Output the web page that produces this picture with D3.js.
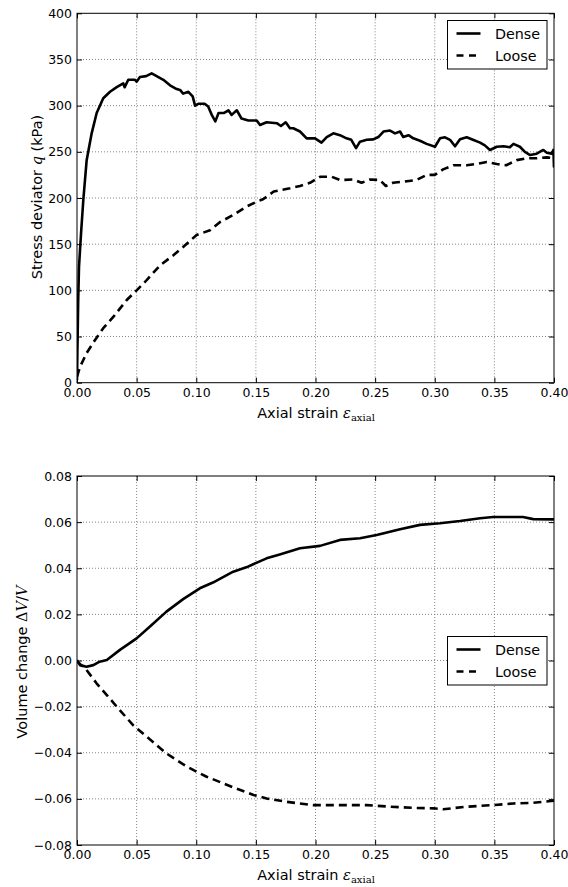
<!DOCTYPE html>
<html><head><meta charset="utf-8">
<script src="https://cdn.jsdelivr.net/npm/d3@7"></script>
<style>body{margin:0;background:#fff}svg{display:block}</style>
</head><body>
<svg id="c" width="568" height="887"></svg>
<script>
// ---- data ----
const xTicks = [0,0.05,0.10,0.15,0.20,0.25,0.30,0.35,0.40];
const qTicks = [0,50,100,150,200,250,300,350,400];
const vTicks = [-0.08,-0.06,-0.04,-0.02,0,0.02,0.04,0.06,0.08];
const seriesNames = ["Dense","Loose"];

const denseQStrain = [0,0.0003,0.001,0.0017,0.0034,0.0053,0.0081,0.0123,0.0165,0.022,0.0277,0.0333,0.0388,0.040,0.043,0.0486,0.050,0.0528,0.058,0.0626,0.0668,0.0724,0.078,0.0836,0.0864,0.089,0.0934,0.097,0.099,0.1017,0.107,0.110,0.113,0.116,0.1187,0.123,0.127,0.1297,0.134,0.138,0.1437,0.1507,0.1535,0.159,0.1675,0.171,0.175,0.1786,0.1814,0.187,0.1926,0.1996,0.205,0.2094,0.215,0.2205,0.226,0.230,0.234,0.2373,0.243,0.2485,0.2527,0.257,0.2625,0.2667,0.2709,0.2736,0.278,0.282,0.2876,0.2932,0.3002,0.3044,0.3086,0.3128,0.317,0.3212,0.3268,0.332,0.338,0.342,0.3463,0.352,0.3577,0.363,0.366,0.3714,0.3756,0.380,0.3855,0.391,0.394,0.398,0.3995,0.4];
const denseQ = [3,30,89,126,162,198,241,270,292,308,315,320,324,320,328,328,326,331,332,335,332,328,322,318,317,313,315,310,300,302,302,299,290,283,292,292,295,290,295,286,284,284,279,282,281,278,282,275.5,275.5,272,264.6,264.6,260,266,270,268,264.6,263,254,261,263,263.5,266,272,273,270,272,266,268,264.6,262,258.6,255.5,264.6,265.7,263,256,263.5,265.7,263,260,257,252,255.5,256,255,258.6,255.5,250,246.5,248,252,249,248,252,233];

const looseQStrain = [0,0.0025,0.008,0.015,0.022,0.0306,0.0417,0.050,0.0584,0.0696,0.0808,0.089,0.1003,0.1115,0.12,0.131,0.142,0.1507,0.156,0.165,0.1786,0.187,0.1954,0.2038,0.2136,0.2205,0.2317,0.2386,0.2457,0.254,0.259,0.265,0.2736,0.2847,0.2932,0.300,0.307,0.3156,0.3268,0.3352,0.3436,0.352,0.360,0.3688,0.377,0.3855,0.394,0.4];
const looseQ = [6.5,17,32,46,59,71.5,89.5,100,111,127,138,147,160,165,174,181.6,190.6,196,198.6,207,210.5,213,216.5,223,223,219.5,220,216.5,220,219.5,213,216.5,217.6,219.5,225,225,231,235.5,235.5,237,239,236.8,235.5,241,243,243,244,243];

const denseVStrain = [0,0.0025,0.008,0.0137,0.019,0.025,0.036,0.050,0.0612,0.075,0.089,0.103,0.114,0.131,0.142,0.159,0.170,0.187,0.2038,0.2205,0.2373,0.2513,0.2709,0.2876,0.3044,0.3212,0.338,0.349,0.366,0.374,0.3826,0.4];
const denseV = [0.0002,-0.002,-0.0027,-0.002,-0.0005,0.0002,0.0046,0.0096,0.0147,0.0212,0.0266,0.0313,0.0338,0.0385,0.0404,0.0443,0.0460,0.0487,0.0497,0.0523,0.0530,0.0544,0.0569,0.0588,0.0595,0.0605,0.0617,0.0622,0.0622,0.0622,0.0613,0.0612];

const looseVStrain = [0,0.008,0.0164,0.025,0.0333,0.047,0.0584,0.075,0.092,0.1087,0.131,0.148,0.159,0.176,0.187,0.198,0.2205,0.243,0.2625,0.282,0.299,0.307,0.3268,0.349,0.366,0.3826,0.4];
const looseV = [-0.0003,-0.0041,-0.0099,-0.015,-0.020,-0.028,-0.033,-0.0403,-0.046,-0.0504,-0.055,-0.0583,-0.0598,-0.0613,-0.062,-0.0627,-0.0627,-0.0627,-0.0634,-0.0639,-0.0641,-0.0645,-0.0634,-0.0627,-0.062,-0.0617,-0.0608];

// ---- drawing ----
const svg = d3.select("#c");
const L = 77, R = 554;
const x = d3.scaleLinear().domain([0,0.4]).range([L,R]);
const fmtX = d3.format(".2f");
const FONT = "DejaVu Sans, sans-serif";
const SERIF = "DejaVu Serif, serif";
const TICK_FS = 12.5, LABEL_FS = 14.5, LEG_FS = 14.3;

function panel(cfg){
  const y = d3.scaleLinear().domain(cfg.ydom).range([cfg.bottom, cfg.top]);
  const g = svg.append("g");
  const id = "clip" + cfg.key;
  svg.append("defs").append("clipPath").attr("id", id)
    .append("rect").attr("x", L).attr("y", cfg.top).attr("width", R-L).attr("height", cfg.bottom-cfg.top);
  // grid
  g.append("g").selectAll("line").data(xTicks.slice(1,-1)).join("line")
    .attr("x1", d=>x(d)).attr("x2", d=>x(d)).attr("y1", cfg.top).attr("y2", cfg.bottom)
    .attr("stroke","#666").attr("stroke-width",0.8).attr("stroke-dasharray","1,2");
  g.append("g").selectAll("line").data(cfg.yticks.slice(1,-1)).join("line")
    .attr("y1", d=>y(d)).attr("y2", d=>y(d)).attr("x1", L).attr("x2", R)
    .attr("stroke","#666").attr("stroke-width",0.8).attr("stroke-dasharray","1,2");
  // lines
  const line = d3.line().x(d=>x(d[0])).y(d=>y(d[1]));
  const plot = g.append("g").attr("clip-path", `url(#${id})`);
  cfg.series.forEach(s=>{
    plot.append("path").datum(d3.zip(s.xs, s.ys))
      .attr("d", line).attr("fill","none").attr("stroke","#000")
      .attr("stroke-width",2.6).attr("stroke-linejoin","round")
      .attr("stroke-dasharray", s.dash || null);
  });
  // axes (ticks inward)
  const ax = g.append("g").attr("transform",`translate(0,${cfg.bottom})`)
    .call(d3.axisBottom(x).tickValues(xTicks).tickFormat(fmtX).tickSizeInner(-5).tickSizeOuter(0).tickPadding(5));
  const axT = g.append("g").attr("transform",`translate(0,${cfg.top})`)
    .call(d3.axisTop(x).tickValues(xTicks).tickFormat("").tickSizeInner(-5).tickSizeOuter(0));
  const ay = g.append("g").attr("transform",`translate(${L},0)`)
    .call(d3.axisLeft(y).tickValues(cfg.yticks).tickFormat(cfg.yfmt).tickSizeInner(-5).tickSizeOuter(0).tickPadding(5));
  const ayR = g.append("g").attr("transform",`translate(${R},0)`)
    .call(d3.axisRight(y).tickValues(cfg.yticks).tickFormat("").tickSizeInner(-5).tickSizeOuter(0));
  [ax,axT,ay,ayR].forEach(a=>{
    a.select(".domain").remove();
    a.selectAll("text").attr("font-family",FONT).attr("font-size",TICK_FS).attr("fill","#000");
    a.selectAll("line").attr("stroke","#000");
  });
  // frame
  g.append("rect").attr("x",L).attr("y",cfg.top).attr("width",R-L).attr("height",cfg.bottom-cfg.top)
    .attr("fill","none").attr("stroke","#000").attr("stroke-width",1);
  // x label
  const xl = g.append("text").attr("x", 316).attr("y", cfg.bottom+35).attr("text-anchor","middle")
    .attr("font-family",FONT).attr("font-size",LABEL_FS);
  xl.append("tspan").text("Axial strain ");
  xl.append("tspan").attr("font-family",SERIF).attr("font-style","italic").text("ε");
  xl.append("tspan").attr("font-family",SERIF).attr("font-size",10).attr("dy",3).text("axial");
  // y label
  const yl = g.append("text").attr("transform",`translate(${cfg.ylx},${cfg.ylc}) rotate(-90)`)
    .attr("text-anchor","middle").attr("font-family",FONT).attr("font-size",LABEL_FS);
  cfg.ylabel(yl);
  // legend
  const lg = g.append("g");
  lg.append("rect").attr("x",447.5).attr("y",cfg.legTop).attr("width",99.5).attr("height",48.5)
    .attr("fill","#fff").attr("stroke","#000").attr("stroke-width",1);
  cfg.series.forEach((s,i)=>{
    const cy = cfg.legTop + 13 + i*22;
    lg.append("line").attr("x1",456.5).attr("x2",480.5).attr("y1",cy).attr("y2",cy)
      .attr("stroke","#000").attr("stroke-width",2.6).attr("stroke-dasharray", s.dash ? "7,5.5" : null);
    lg.append("text").attr("x",495).attr("y",cy+5.3).attr("font-family",FONT).attr("font-size",LEG_FS).text(s.name);
  });
}

panel({key:"q", top:13.3, bottom:382.7, ydom:[0,400], yticks:qTicks, yfmt:d3.format("d"), ylx:42, ylc:197, legTop:20.5,
  series:[{name:seriesNames[0], xs:denseQStrain, ys:denseQ},{name:seriesNames[1], xs:looseQStrain, ys:looseQ, dash:"8,5"}],
  ylabel: t=>{ t.append("tspan").text("Stress deviator ");
    t.append("tspan").attr("font-family",SERIF).attr("font-style","italic").text("q");
    t.append("tspan").text(" (kPa)"); }
});

panel({key:"v", top:476, bottom:845, ydom:[-0.08,0.08], yticks:vTicks, yfmt:d=>d3.format(".2f")(d).replace("-","\u2212"), ylx:27, ylc:662, legTop:636.5,
  series:[{name:seriesNames[0], xs:denseVStrain, ys:denseV},{name:seriesNames[1], xs:looseVStrain, ys:looseV, dash:"8,5"}],
  ylabel: t=>{ t.append("tspan").text("Volume change ");
    t.append("tspan").attr("font-family",SERIF).text("Δ");
    t.append("tspan").attr("font-family",SERIF).attr("font-style","italic").text("V");
    t.append("tspan").attr("font-family",SERIF).text("/");
    t.append("tspan").attr("font-family",SERIF).attr("font-style","italic").text("V"); }
});
</script>
</body></html>
